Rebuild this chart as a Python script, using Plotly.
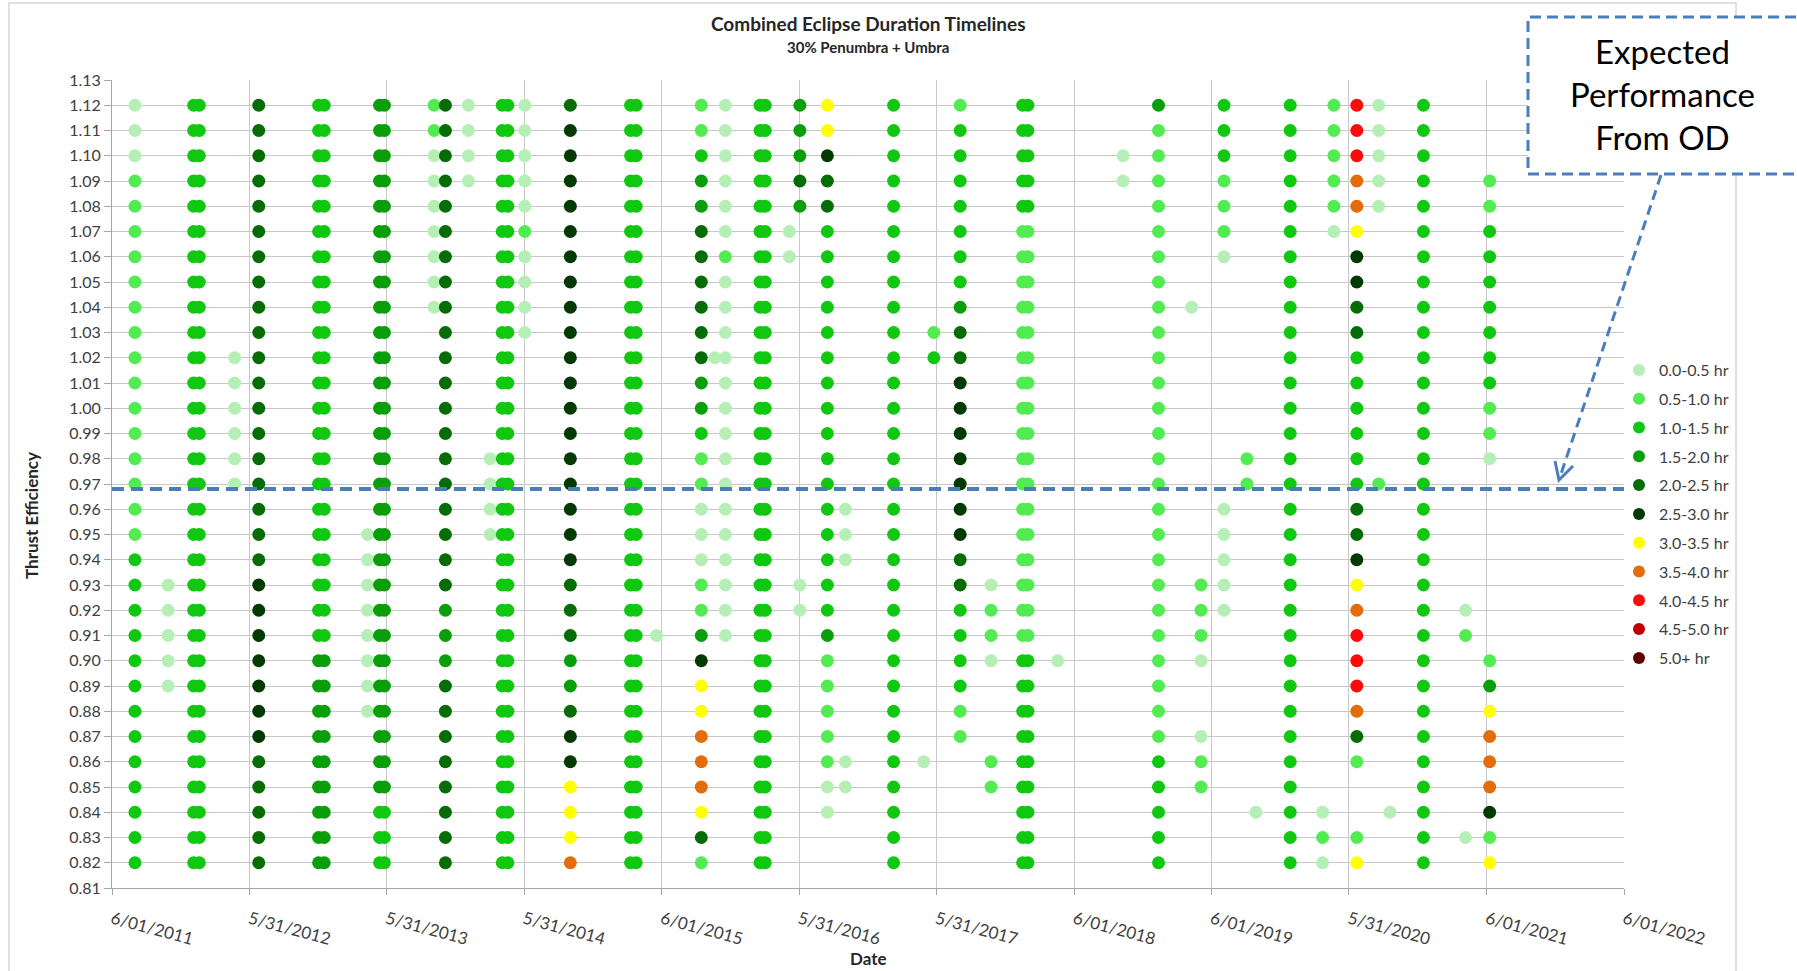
import plotly.graph_objects as go

# ---------------- data ----------------
categories = ["0.0-0.5 hr", "0.5-1.0 hr", "1.0-1.5 hr", "1.5-2.0 hr", "2.0-2.5 hr",
              "2.5-3.0 hr", "3.0-3.5 hr", "3.5-4.0 hr", "4.0-4.5 hr", "4.5-5.0 hr", "5.0+ hr"]
cat_colors = ["#b6efb6", "#52ec52", "#10c810", "#0a9e0a", "#066c06",
              "#033a03", "#ffff00", "#e46c0a", "#ff0a0a", "#c00000", "#5e0000"]

# thrust-efficiency levels, top (1.12) to bottom (0.82)
eff_levels = [1.12, 1.11, 1.10, 1.09, 1.08, 1.07, 1.06, 1.05, 1.04, 1.03, 1.02,
              1.01, 1.00, 0.99, 0.98, 0.97, 0.96, 0.95, 0.94, 0.93, 0.92, 0.91,
              0.90, 0.89, 0.88, 0.87, 0.86, 0.85, 0.84, 0.83, 0.82]

# eclipse-season dates (one column of points each)
column_dates = [
    "2011-08-01", "2011-10-28", "2012-01-04", "2012-01-19", "2012-04-22",
    "2012-06-25", "2012-12-01", "2012-12-16", "2013-04-10", "2013-05-12",
    "2013-05-25", "2013-10-04", "2013-11-03", "2014-01-03", "2014-03-02",
    "2014-04-03", "2014-04-18", "2014-06-02", "2014-10-01", "2015-03-10",
    "2015-03-25", "2015-05-18", "2015-09-14", "2015-10-20", "2015-11-17",
    "2016-02-17", "2016-03-02", "2016-05-05", "2016-06-02", "2016-08-14",
    "2016-10-01", "2017-02-06", "2017-04-27", "2017-05-24", "2017-08-02",
    "2017-10-23", "2018-01-15", "2018-01-29", "2018-04-18", "2018-10-09",
    "2019-01-11", "2019-04-09", "2019-05-04", "2019-07-04", "2019-09-03",
    "2019-09-27", "2019-12-27", "2020-03-22", "2020-04-21", "2020-06-21",
    "2020-08-18", "2020-09-17", "2020-12-15", "2021-04-06", "2021-06-09",
]

# duration category per level (top->bottom), '.' = no point; 0-9,a = category index
column_codes = [
    "00011 11111 11111 11122 22222 22222 2",
    "..... ..... ..... ....0 0000. ..... .",
    "22222 22222 22222 22222 22222 22222 2",
    "22222 22222 22222 22222 22222 22222 2",
    "..... ..... 00000 0.... ..... ..... .",
    "44444 44444 44444 44445 55555 54444 4",
    "22222 22222 22222 22222 22333 33333 3",
    "22222 22222 22222 22222 22333 33333 3",
    "..... ..... ..... ..000 00000 ..... .",
    "33333 33333 33333 33333 33333 33322 2",
    "33333 33333 33333 33333 33333 33322 2",
    "11000 0000. ..... ..... ..... ..... .",
    "44444 44444 44444 44444 33344 44444 4",
    "0000. ..... ..... ..... ..... ..... .",
    "..... ..... ....0 000.. ..... ..... .",
    "22222 22222 22222 22222 22222 22222 2",
    "22222 22222 22222 22222 22222 22222 2",
    "00000 10000 ..... ..... ..... ..... .",
    "45555 55555 55555 55554 44334 55666 7",
    "22222 22222 22222 22222 22222 22222 2",
    "22222 22222 22222 22222 22222 22222 2",
    "..... ..... ..... ..... .0... ..... .",
    "11233 44444 43321 10001 13566 77764 1",
    "..... ..... 0.... ..... ..... ..... .",
    "00000 01000 00000 00000 00... ..... .",
    "22222 22222 22222 22222 22222 22222 2",
    "22222 22222 22222 22222 22222 22222 2",
    "..... 00... ..... ..... ..... ..... .",
    "33343 ..... ..... ....0 0.... ..... .",
    "66544 22222 22222 22222 23111 1100. .",
    "..... ..... ..... .000. ..... .00.. .",
    "22222 22222 22222 22222 22222 22222 2",
    "..... ..... ..... ..... ..... .0... .",
    "..... ....1 2.... ..... ..... ..... .",
    "12222 22234 45555 55544 22221 1.... .",
    "..... ..... ..... ....0 110.. .11.. .",
    "22222 11111 11111 11111 11222 22222 2",
    "22222 11111 11111 11111 11222 22222 2",
    "..... ..... ..... ..... ..0.. ..... .",
    "..00. ..... ..... ..... ..... ..... .",
    "31111 11111 11111 11111 11111 12222 2",
    "..... ...0. ..... ..... ..... ..... .",
    "..... ..... ..... ....1 110.. 011.. .",
    "22211 10... ..... .0000 0.... ..... .",
    "..... ..... ....1 1.... ..... ..... .",
    "..... ..... ..... ..... ..... ...0. .",
    "22222 22222 22222 22222 22222 22222 2",
    "..... ..... ..... ..... ..... ...01 0",
    "11111 0.... ..... ..... ..... ..... .",
    "88877 65544 22222 24456 78887 41..1 6",
    "00000 ..... ..... 1.... ..... ..... .",
    "..... ..... ..... ..... ..... ...0. .",
    "22222 22222 22222 22222 22222 22222 2",
    "..... ..... ..... ..... 01... ....0 .",
    "...11 22222 22110 ..... ..136 77751 6",
]

tick_dates = ["2011-06-01", "2012-05-31", "2013-05-31", "2014-05-31", "2015-06-01",
              "2016-05-31", "2017-05-31", "2018-06-01", "2019-06-01", "2020-05-31",
              "2021-06-01", "2022-06-01"]
tick_labels = ["6/01/2011", "5/31/2012", "5/31/2013", "5/31/2014", "6/01/2015",
               "5/31/2016", "5/31/2017", "6/01/2018", "6/01/2019", "5/31/2020",
               "6/01/2021", "6/01/2022"]

expected_efficiency = 0.968

# ---------------- build traces ----------------
xs = [[] for _ in categories]
ys = [[] for _ in categories]
for d, code in zip(column_dates, column_codes):
    c = code.replace(" ", "")
    for lvl, ch in zip(eff_levels, c):
        if ch != ".":
            k = int(ch, 16)
            xs[k].append(d)
            ys[k].append(lvl)

fig = go.Figure()
for k, name in enumerate(categories):
    fig.add_trace(go.Scatter(
        x=xs[k] if xs[k] else [None], y=ys[k] if ys[k] else [None],
        mode="markers", name=name, legendgroup=str(k),
        marker=dict(color=cat_colors[k], size=13, line=dict(width=0)),
    ))

# ---------------- layout helpers (pixel -> paper) ----------------
W, H = 1797, 971
PL, PR, PT, PB = 112, 1624, 80, 888


def px(X):
    return (X - PL) / (PR - PL)


def py(Y):
    return (PB - Y) / (PB - PT)


blue = "#4a7ebb"
grid = "#c8c8c8"
txt = "#404040"
FONT = "Lato"

shapes = [
    # outer chart frame
    dict(type="rect", xref="paper", yref="paper", x0=px(9), x1=px(1736), y0=py(1010), y1=py(3),
         line=dict(color="#d6d6d6", width=1.5), fillcolor="rgba(0,0,0,0)", layer="above"),
    # expected performance line
    dict(type="line", xref="paper", yref="y", x0=0, x1=1, y0=expected_efficiency, y1=expected_efficiency,
         line=dict(color=blue, width=4, dash="12px,7px"), layer="above"),
    # callout box
    dict(type="rect", xref="paper", yref="paper", x0=px(1528), x1=px(1830), y0=py(174), y1=py(17),
         line=dict(color=blue, width=3, dash="11px,6px"), fillcolor="white", layer="above"),
    # callout arrow shaft
    dict(type="line", xref="paper", yref="paper", x0=px(1661), y0=py(175), x1=px(1560), y1=py(477),
         line=dict(color=blue, width=3, dash="10px,6px"), layer="above"),
    # arrow head (open V)
    dict(type="path", xref="paper", yref="paper",
         path="M {:.5f},{:.5f} L {:.5f},{:.5f} L {:.5f},{:.5f}".format(
             px(1573), py(466), px(1559), py(480), px(1555), py(461)),
         line=dict(color=blue, width=3), layer="above"),
]

annotations = [
    dict(xref="paper", yref="paper", x=0.5, y=py(23), text="<b>Combined Eclipse Duration Timelines</b>",
         showarrow=False, font=dict(family=FONT, size=19, color="#262626"), yanchor="middle"),
    dict(xref="paper", yref="paper", x=0.5, y=py(47), text="<b>30% Penumbra + Umbra</b>",
         showarrow=False, font=dict(family=FONT, size=15, color="#262626"), yanchor="middle"),
    dict(xref="paper", yref="paper", x=px(31), y=py(516), text="<b>Thrust Efficiency</b>", textangle=-90,
         showarrow=False, font=dict(family=FONT, size=17, color="#262626"), xanchor="center", yanchor="middle"),
    dict(xref="paper", yref="paper", x=0.5, y=py(958), text="<b>Date</b>",
         showarrow=False, font=dict(family=FONT, size=17, color="#262626"), yanchor="middle"),
    dict(xref="paper", yref="paper", x=px(1663), y=py(94), text="Expected<br>Performance<br>From OD",
         showarrow=False, font=dict(family=FONT, size=33, color="black"), align="center",
         xanchor="center", yanchor="middle"),
]

fig.update_layout(
    width=W, height=H,
    margin=dict(l=PL, r=W - PR, t=PT, b=H - PB),
    paper_bgcolor="white", plot_bgcolor="white",
    font=dict(family=FONT, color=txt),
    showlegend=True,
    legend=dict(x=px(1619), xanchor="left", y=py(353), yanchor="top",
                font=dict(family=FONT, size=16, color=txt), traceorder="grouped",
                tracegroupgap=5, itemwidth=30, bgcolor="rgba(0,0,0,0)", itemsizing="constant"),
    shapes=shapes,
    annotations=annotations,
    xaxis=dict(type="date", range=["2011-06-01", "2022-06-01"], tickmode="array",
               tickvals=tick_dates, ticktext=tick_labels, tickangle=15,
               tickfont=dict(family=FONT, size=17, color=txt),
               showgrid=True, gridcolor=grid, gridwidth=1,
               showline=True, linecolor="#a6a6a6", linewidth=1,
               ticks="outside", ticklen=6, tickcolor="#a6a6a6", zeroline=False,
               ticklabelstandoff=8),
    yaxis=dict(range=[0.81, 1.13], tick0=0.81, dtick=0.01, tickformat=".2f",
               tickfont=dict(family=FONT, size=16, color=txt),
               showgrid=True, gridcolor=grid, gridwidth=1,
               showline=True, linecolor="#a6a6a6", linewidth=1,
               ticks="outside", ticklen=7, tickcolor="#a6a6a6", zeroline=False),
)

fig.write_html("out.html", config={"displayModeBar": False},
               post_script="document.body.style.margin='0px';")
